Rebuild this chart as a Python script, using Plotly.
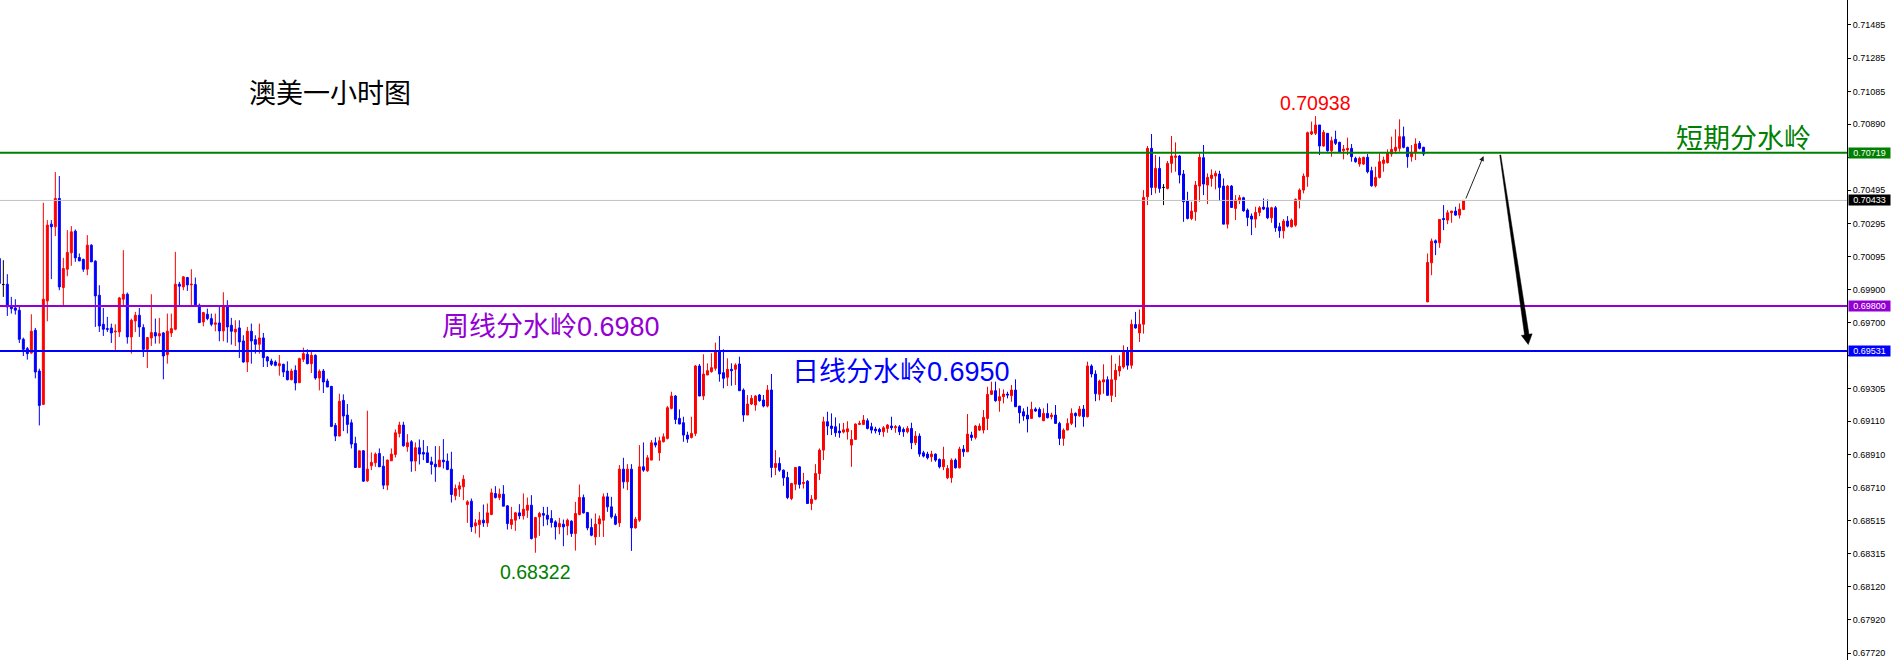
import plotly.graph_objects as go

# ---------------- data (AUDUSD 1H candles) ----------------
opens = [
0.70085,0.69929,0.69931,0.69795,0.69789,0.69775,0.69601,0.69545,0.69519,0.69655,
0.69411,0.69211,0.69831,0.70291,0.70275,0.70445,0.69911,0.70021,0.70119,0.70249,
0.70091,0.70079,0.70021,0.70165,0.70069,0.69865,0.69691,0.69665,0.69669,0.69645,
0.69645,0.69841,0.69871,0.69615,0.69711,0.69745,0.69671,0.69541,0.69609,0.69641,
0.69621,0.69639,0.69509,0.69639,0.69661,0.69931,0.69915,0.69971,0.69927,0.69929,
0.69805,0.69705,0.69751,0.69725,0.69691,0.69699,0.69651,0.69795,0.69685,0.69645,
0.69669,0.69591,0.69465,0.69649,0.69599,0.69571,0.69609,0.69495,0.69471,0.69465,
0.69443,0.69451,0.69411,0.69359,0.69415,0.69341,0.69481,0.69511,0.69455,0.69505,
0.69369,0.69411,0.69351,0.69319,0.69085,0.69021,0.69235,0.69147,0.69101,0.68977,
0.68833,0.68933,0.68753,0.68843,0.68861,0.68917,0.68841,0.68727,0.68873,0.68911,
0.69037,0.69087,0.68957,0.68987,0.68871,0.68951,0.68923,0.68921,0.68867,0.68853,
0.68837,0.68877,0.68871,0.68823,0.68663,0.68703,0.68717,0.68611,0.68631,0.68483,
0.68491,0.68517,0.68501,0.68551,0.68677,0.68653,0.68673,0.68603,0.68491,0.68517,
0.68561,0.68543,0.68577,0.68607,0.68413,0.68537,0.68557,0.68547,0.68527,0.68507,
0.68477,0.68493,0.68483,0.68511,0.68437,0.68551,0.68653,0.68563,0.68473,0.68417,
0.68495,0.68517,0.68657,0.68597,0.68541,0.68501,0.68823,0.68747,0.68823,0.68471,
0.68517,0.68837,0.68813,0.68877,0.68981,0.68921,0.68987,0.69007,0.69187,0.69261,
0.69127,0.69101,0.69027,0.69013,0.69037,0.69441,0.69261,0.69387,0.69407,0.69427,
0.69527,0.69401,0.69373,0.69421,0.69421,0.69453,0.69297,0.69147,0.69213,0.69207,
0.69267,0.69237,0.69201,0.69297,0.68833,0.68857,0.68817,0.68773,0.68647,0.68733,
0.68837,0.68737,0.68751,0.68617,0.68643,0.68797,0.68937,0.69107,0.69081,0.69077,
0.69051,0.69045,0.69047,0.68967,0.69001,0.69091,0.69091,0.69113,0.69077,0.69063,
0.69061,0.69047,0.69067,0.69081,0.69071,0.69077,0.69061,0.69047,0.69067,0.68981,
0.69021,0.68921,0.68913,0.68897,0.68913,0.68881,0.68837,0.68771,0.68771,0.68877,
0.68831,0.68943,0.68927,0.69027,0.69013,0.69057,0.69057,0.69127,0.69271,0.69293,
0.69233,0.69257,0.69273,0.69263,0.69297,0.69201,0.69167,0.69147,0.69127,0.69183,
0.69181,0.69113,0.69157,0.69137,0.69147,0.69097,0.69007,0.69057,0.69097,0.69157,
0.69143,0.69183,0.69137,0.69441,0.69393,0.69271,0.69345,0.69359,0.69265,0.69359,
0.69411,0.69435,0.69525,0.69445,0.69689,0.69639,0.69691,0.70455,0.70745,0.70511,
0.70625,0.70511,0.70505,0.70655,0.70691,0.70699,0.70591,0.70429,0.70325,0.70365,
0.70519,0.70689,0.70525,0.70565,0.70579,0.70591,0.70519,0.70291,0.70519,0.70385,
0.70431,0.70449,0.70375,0.70339,0.70321,0.70361,0.70393,0.70389,0.70329,0.70389,
0.70275,0.70251,0.70309,0.70275,0.70285,0.70439,0.70495,0.70575,0.70831,0.70835,
0.70885,0.70759,0.70835,0.70731,0.70799,0.70781,0.70731,0.70735,0.70745,0.70685,
0.70651,0.70651,0.70691,0.70611,0.70521,0.70571,0.70655,0.70659,0.70711,0.70731,
0.70745,0.70815,0.70751,0.70695,0.70721,0.70775,0.70751,0.69825,0.70059,0.70191,
0.70179,0.70325,0.70315,0.70359,0.70369,0.70345,0.70379]

highs = [
0.70091,0.70075,0.69991,0.69855,0.69841,0.69805,0.69611,0.69555,0.69751,0.69669,
0.69425,0.70419,0.70315,0.70315,0.70603,0.70579,0.70089,0.70255,0.70279,0.70259,
0.70115,0.70085,0.70225,0.70171,0.70075,0.69925,0.69789,0.69735,0.69695,0.69691,
0.69855,0.70135,0.69881,0.69725,0.69765,0.69789,0.69691,0.69615,0.69871,0.69725,
0.69729,0.69645,0.69755,0.69755,0.70125,0.69945,0.69979,0.69975,0.70021,0.69971,
0.69815,0.69765,0.69785,0.69755,0.69755,0.69795,0.69883,0.69835,0.69729,0.69715,
0.69715,0.69625,0.69675,0.69695,0.69625,0.69695,0.69639,0.69501,0.69485,0.69475,
0.69507,0.69455,0.69469,0.69425,0.69445,0.69491,0.69551,0.69541,0.69535,0.69511,
0.69421,0.69423,0.69365,0.69321,0.69099,0.69275,0.69271,0.69213,0.69121,0.69017,
0.68933,0.68937,0.69173,0.68923,0.68923,0.68947,0.68901,0.68881,0.68947,0.69061,
0.69107,0.69107,0.69033,0.68997,0.68983,0.69001,0.68997,0.68961,0.68897,0.68961,
0.68961,0.69003,0.68917,0.68927,0.68731,0.68747,0.68787,0.68637,0.68647,0.68523,
0.68567,0.68611,0.68617,0.68707,0.68721,0.68707,0.68727,0.68607,0.68597,0.68567,
0.68613,0.68677,0.68653,0.68667,0.68537,0.68567,0.68597,0.68597,0.68577,0.68517,
0.68531,0.68521,0.68527,0.68517,0.68627,0.68731,0.68671,0.68567,0.68527,0.68557,
0.68545,0.68677,0.68681,0.68657,0.68557,0.68847,0.68891,0.68853,0.68853,0.68537,
0.68967,0.68983,0.68907,0.68997,0.69013,0.69017,0.69037,0.69201,0.69287,0.69267,
0.69181,0.69137,0.69047,0.69137,0.69447,0.69453,0.69511,0.69457,0.69517,0.69581,
0.69621,0.69541,0.69487,0.69457,0.69457,0.69497,0.69307,0.69267,0.69267,0.69267,
0.69273,0.69267,0.69327,0.69393,0.68937,0.68893,0.68821,0.68807,0.68741,0.68833,
0.68841,0.68801,0.68757,0.68667,0.68853,0.68947,0.69137,0.69167,0.69157,0.69133,
0.69097,0.69100,0.69110,0.69057,0.69097,0.69113,0.69147,0.69127,0.69101,0.69077,
0.69071,0.69081,0.69093,0.69137,0.69087,0.69087,0.69073,0.69081,0.69101,0.69051,
0.69037,0.68933,0.68927,0.68933,0.68917,0.68887,0.68957,0.68847,0.68887,0.68887,
0.68957,0.68967,0.69153,0.69047,0.69087,0.69097,0.69177,0.69317,0.69347,0.69347,
0.69307,0.69301,0.69287,0.69327,0.69361,0.69201,0.69187,0.69197,0.69227,0.69193,
0.69193,0.69187,0.69217,0.69161,0.69207,0.69107,0.69067,0.69127,0.69187,0.69163,
0.69201,0.69207,0.69467,0.69451,0.69415,0.69359,0.69451,0.69379,0.69505,0.69455,
0.69505,0.69565,0.69555,0.69719,0.69765,0.69779,0.70495,0.70759,0.70831,0.70705,
0.70695,0.70531,0.70669,0.70819,0.70781,0.70705,0.70615,0.70485,0.70425,0.70549,
0.70715,0.70765,0.70595,0.70619,0.70611,0.70611,0.70565,0.70525,0.70525,0.70465,
0.70465,0.70455,0.70385,0.70355,0.70395,0.70399,0.70445,0.70439,0.70395,0.70399,
0.70299,0.70321,0.70339,0.70325,0.70445,0.70505,0.70595,0.70845,0.70905,0.70938,
0.70885,0.70855,0.70835,0.70815,0.70851,0.70785,0.70765,0.70809,0.70771,0.70695,
0.70695,0.70695,0.70711,0.70635,0.70635,0.70715,0.70695,0.70739,0.70815,0.70859,
0.70919,0.70875,0.70755,0.70765,0.70805,0.70789,0.70755,0.70115,0.70205,0.70199,
0.70321,0.70405,0.70375,0.70371,0.70395,0.70415,0.70433]

lows = [
0.69795,0.69855,0.69741,0.69755,0.69749,0.69579,0.69501,0.69479,0.69515,0.69367,
0.69085,0.69211,0.69709,0.69961,0.70219,0.69895,0.69805,0.69979,0.70041,0.70065,
0.70069,0.70005,0.69985,0.70065,0.69675,0.69645,0.69621,0.69645,0.69579,0.69525,
0.69615,0.69795,0.69575,0.69515,0.69645,0.69615,0.69495,0.69429,0.69561,0.69575,
0.69575,0.69361,0.69455,0.69615,0.69655,0.69805,0.69895,0.69891,0.69795,0.69795,
0.69699,0.69679,0.69715,0.69679,0.69649,0.69589,0.69589,0.69581,0.69569,0.69561,
0.69489,0.69461,0.69405,0.69455,0.69515,0.69515,0.69435,0.69435,0.69441,0.69439,
0.69383,0.69375,0.69355,0.69355,0.69295,0.69339,0.69465,0.69451,0.69399,0.69359,
0.69295,0.69279,0.69315,0.69075,0.68991,0.69021,0.69051,0.69037,0.68947,0.68833,
0.68833,0.68747,0.68747,0.68817,0.68837,0.68837,0.68703,0.68697,0.68873,0.68893,
0.69013,0.68957,0.68927,0.68807,0.68811,0.68851,0.68877,0.68861,0.68791,0.68747,
0.68837,0.68827,0.68817,0.68623,0.68637,0.68657,0.68637,0.68501,0.68447,0.68437,
0.68413,0.68477,0.68477,0.68547,0.68647,0.68637,0.68601,0.68461,0.68463,0.68453,
0.68523,0.68521,0.68531,0.68401,0.68322,0.68423,0.68481,0.68487,0.68473,0.68401,
0.68433,0.68361,0.68427,0.68417,0.68335,0.68547,0.68557,0.68457,0.68421,0.68367,
0.68417,0.68417,0.68567,0.68527,0.68487,0.68477,0.68707,0.68697,0.68333,0.68467,
0.68507,0.68807,0.68807,0.68877,0.68953,0.68873,0.68983,0.69001,0.69181,0.69093,
0.69093,0.68987,0.68981,0.69007,0.69021,0.69261,0.69237,0.69387,0.69401,0.69413,
0.69347,0.69307,0.69321,0.69323,0.69327,0.69293,0.69107,0.69147,0.69207,0.69173,
0.69227,0.69193,0.69193,0.68773,0.68787,0.68807,0.68723,0.68643,0.68637,0.68697,
0.68707,0.68707,0.68617,0.68577,0.68637,0.68757,0.68877,0.69027,0.69027,0.69017,
0.69011,0.69037,0.69000,0.68837,0.69001,0.69087,0.69087,0.69061,0.69037,0.69037,
0.69027,0.69017,0.69041,0.69057,0.69041,0.69027,0.69017,0.69037,0.68943,0.68967,
0.68897,0.68893,0.68881,0.68867,0.68867,0.68827,0.68817,0.68763,0.68741,0.68827,
0.68827,0.68897,0.68927,0.68993,0.69001,0.69051,0.69037,0.69057,0.69267,0.69227,
0.69167,0.69217,0.69247,0.69227,0.69197,0.69097,0.69113,0.69043,0.69127,0.69167,
0.69133,0.69111,0.69127,0.69121,0.69097,0.68967,0.68963,0.69057,0.69087,0.69073,
0.69137,0.69077,0.69133,0.69373,0.69230,0.69235,0.69275,0.69265,0.69225,0.69255,
0.69379,0.69425,0.69419,0.69425,0.69665,0.69585,0.69635,0.70405,0.70465,0.70475,
0.70479,0.70405,0.70499,0.70599,0.70605,0.70535,0.70305,0.70319,0.70315,0.70311,
0.70425,0.70465,0.70411,0.70515,0.70499,0.70429,0.70291,0.70265,0.70391,0.70315,
0.70411,0.70365,0.70279,0.70225,0.70269,0.70339,0.70375,0.70321,0.70299,0.70245,
0.70209,0.70205,0.70271,0.70271,0.70275,0.70385,0.70475,0.70515,0.70825,0.70825,
0.70705,0.70755,0.70725,0.70695,0.70765,0.70719,0.70679,0.70705,0.70665,0.70659,
0.70635,0.70645,0.70595,0.70515,0.70511,0.70565,0.70605,0.70655,0.70695,0.70711,
0.70725,0.70745,0.70629,0.70665,0.70675,0.70739,0.70699,0.69825,0.69985,0.70105,
0.70149,0.70255,0.70291,0.70299,0.70341,0.70325,0.70375]

closes = [
0.69935,0.69929,0.69795,0.69785,0.69775,0.69601,0.69541,0.69515,0.69649,0.69405,
0.69205,0.69841,0.70285,0.70275,0.70445,0.69915,0.70025,0.70121,0.70245,0.70089,
0.70071,0.70021,0.70165,0.70065,0.69861,0.69681,0.69661,0.69661,0.69639,0.69649,
0.69849,0.69871,0.69615,0.69715,0.69745,0.69675,0.69541,0.69611,0.69641,0.69621,
0.69635,0.69501,0.69649,0.69665,0.69931,0.69919,0.69975,0.69927,0.69931,0.69799,
0.69701,0.69761,0.69725,0.69691,0.69699,0.69651,0.69795,0.69675,0.69649,0.69661,
0.69585,0.69465,0.69649,0.69591,0.69571,0.69609,0.69491,0.69471,0.69451,0.69445,
0.69455,0.69405,0.69359,0.69411,0.69339,0.69485,0.69515,0.69455,0.69505,0.69369,
0.69409,0.69345,0.69315,0.69079,0.69021,0.69229,0.69141,0.69091,0.68973,0.68833,
0.68933,0.68751,0.68823,0.68863,0.68913,0.68837,0.68727,0.68877,0.68913,0.69041,
0.69087,0.68963,0.68981,0.68871,0.68951,0.68913,0.68913,0.68863,0.68851,0.68837,
0.68877,0.68867,0.68821,0.68671,0.68707,0.68723,0.68763,0.68627,0.68477,0.68501,
0.68517,0.68501,0.68561,0.68681,0.68653,0.68673,0.68601,0.68497,0.68521,0.68561,
0.68543,0.68583,0.68607,0.68407,0.68533,0.68557,0.68547,0.68523,0.68503,0.68477,
0.68497,0.68477,0.68517,0.68437,0.68557,0.68653,0.68561,0.68471,0.68427,0.68493,
0.68525,0.68657,0.68597,0.68537,0.68493,0.68823,0.68747,0.68823,0.68471,0.68523,
0.68837,0.68817,0.68891,0.68981,0.68967,0.68993,0.69017,0.69191,0.69261,0.69121,
0.69093,0.69027,0.69003,0.69037,0.69441,0.69261,0.69393,0.69413,0.69431,0.69527,
0.69393,0.69367,0.69421,0.69413,0.69447,0.69293,0.69147,0.69213,0.69247,0.69261,
0.69233,0.69201,0.69297,0.68833,0.68857,0.68817,0.68771,0.68653,0.68737,0.68833,
0.68731,0.68743,0.68617,0.68643,0.68797,0.68937,0.69107,0.69081,0.69067,0.69041,
0.69041,0.69059,0.69065,0.69001,0.69093,0.69097,0.69117,0.69067,0.69057,0.69053,
0.69047,0.69071,0.69087,0.69071,0.69077,0.69047,0.69047,0.69067,0.68981,0.69021,
0.68913,0.68901,0.68891,0.68913,0.68877,0.68837,0.68881,0.68827,0.68877,0.68831,
0.68943,0.68927,0.69033,0.69013,0.69081,0.69081,0.69133,0.69271,0.69293,0.69233,
0.69257,0.69273,0.69267,0.69297,0.69197,0.69161,0.69141,0.69123,0.69181,0.69171,
0.69137,0.69157,0.69131,0.69147,0.69097,0.69007,0.69057,0.69097,0.69157,0.69143,
0.69183,0.69137,0.69441,0.69393,0.69275,0.69351,0.69359,0.69265,0.69359,0.69415,
0.69439,0.69525,0.69445,0.69691,0.69669,0.69691,0.70451,0.70745,0.70511,0.70625,
0.70505,0.70511,0.70655,0.70699,0.70699,0.70585,0.70425,0.70325,0.70369,0.70525,
0.70691,0.70531,0.70571,0.70585,0.70595,0.70511,0.70291,0.70519,0.70391,0.70435,
0.70449,0.70371,0.70331,0.70321,0.70361,0.70389,0.70381,0.70329,0.70389,0.70269,
0.70251,0.70309,0.70279,0.70315,0.70439,0.70495,0.70579,0.70839,0.70845,0.70885,
0.70759,0.70841,0.70731,0.70791,0.70775,0.70725,0.70741,0.70745,0.70695,0.70665,
0.70685,0.70691,0.70605,0.70521,0.70571,0.70665,0.70675,0.70715,0.70739,0.70751,
0.70815,0.70751,0.70695,0.70721,0.70771,0.70745,0.70711,0.70061,0.70189,0.70179,
0.70319,0.70319,0.70359,0.70369,0.70345,0.70381,0.70433]

candle_index = list(range(1, len(opens) + 1))

# horizontal levels
short_level = 0.70719    # 短期分水岭
bid_level = 0.70433      # current price
weekly_level = 0.69800   # 周线分水岭
daily_level = 0.69531    # 日线分水岭

# axis ticks (MT4 price scale); the two hidden under price tags carry no label
tick_values = [0.71485, 0.71285, 0.71085, 0.70890, 0.70690, 0.70495, 0.70295,
               0.70095, 0.69900, 0.69700, 0.69505, 0.69305, 0.69110, 0.68910,
               0.68710, 0.68515, 0.68315, 0.68120, 0.67920, 0.67720]
hidden_ticks = [0.70690, 0.69505]
tick_labels = ["" if v in hidden_ticks else "%.5f" % v for v in tick_values]

high_label = "0.70938"
low_label = "0.68322"

# ---------------- figure ----------------
RED = "#FF0000"
BLUE = "#0000FF"
GREEN = "#008000"
PURPLE = "#9400D3"

normal = [i for i in range(len(opens)) if opens[i] != closes[i]]
doji = [i for i in range(len(opens)) if opens[i] == closes[i]]

def pick(arr, idx):
    return [arr[i] for i in idx]

fig = go.Figure()
fig.add_trace(go.Candlestick(
    x=pick(candle_index, normal), open=pick(opens, normal), high=pick(highs, normal),
    low=pick(lows, normal), close=pick(closes, normal),
    increasing=dict(line=dict(color=RED, width=1), fillcolor=RED),
    decreasing=dict(line=dict(color=BLUE, width=1), fillcolor=BLUE),
    whiskerwidth=0, hoverinfo="skip", showlegend=False))
fig.add_trace(go.Candlestick(
    x=pick(candle_index, doji), open=pick(opens, doji), high=pick(highs, doji),
    low=pick(lows, doji), close=pick(closes, doji),
    increasing=dict(line=dict(color="black", width=1), fillcolor="black"),
    decreasing=dict(line=dict(color="black", width=1), fillcolor="black"),
    whiskerwidth=0, hoverinfo="skip", showlegend=False))

# level lines
for lvl, col, w in [(bid_level, "#C0C0C0", 1), (short_level, GREEN, 2),
                    (weekly_level, PURPLE, 2), (daily_level, BLUE, 2)]:
    fig.add_shape(type="line", xref="paper", x0=0, x1=1, yref="y", y0=lvl, y1=lvl,
                  line=dict(color=col, width=w), layer="above")

# thick projected down arrow (tapered)
fig.add_shape(type="path", xref="x", yref="y", layer="above",
              path="M 376.29 0.707058 L 383.34 0.696309 L 384.14 0.696339 L 383.17 0.695698 "
                   "L 381.44 0.696243 L 382.24 0.696273 L 376.04 0.707046 Z",
              fillcolor="black", line=dict(color="black", width=0.5))

CJK = "Liberation Sans, Arial, Noto Sans CJK SC, sans-serif"
ann = []
# thin up arrow
ann.append(dict(x=371.99, y=0.706992, ax=367.42, ay=0.704356, xref="x", yref="y",
                axref="x", ayref="y", showarrow=True, arrowhead=2, arrowsize=1,
                arrowwidth=1, arrowcolor="#222222", text=""))
# texts
ann.append(dict(x=83.7, y=0.71084, xref="x", yref="y", text="澳美一小时图", showarrow=False,
                font=dict(family="Noto Sans CJK SC", size=27, color="black")))
ann.append(dict(x=329.9, y=0.71015, xref="x", yref="y", text=high_label, showarrow=False,
                font=dict(family="Liberation Sans, Arial", size=19.5, color=RED)))
ann.append(dict(x=134.9, y=0.68209, xref="x", yref="y", text=low_label, showarrow=False,
                font=dict(family="Liberation Sans, Arial", size=19.5, color=GREEN)))
ann.append(dict(x=139.0, y=0.69675, xref="x", yref="y", text="周线分水岭0.6980", showarrow=False,
                font=dict(family=CJK, size=27, color=PURPLE)))
ann.append(dict(x=226.5, y=0.69405, xref="x", yref="y", text="日线分水岭0.6950", showarrow=False,
                font=dict(family=CJK, size=27, color=BLUE)))
ann.append(dict(x=437.0, y=0.70815, xref="x", yref="y", text="短期分水岭", showarrow=False,
                font=dict(family="Noto Sans CJK SC", size=27, color=GREEN)))
# price tags on the axis
for lvl, bg in [(short_level, GREEN), (bid_level, "black"), (weekly_level, PURPLE), (daily_level, BLUE)]:
    ann.append(dict(xref="paper", x=1, xanchor="left", xshift=1, yref="y", y=lvl,
                    yanchor="middle", text="%.5f" % lvl, showarrow=False, bgcolor=bg,
                    width=41, height=10, borderpad=0, align="center",
                    font=dict(family="Liberation Sans, Arial", size=9, color="white")))

fig.update_layout(
    width=1893, height=660,
    margin=dict(l=0, r=46, t=0, b=0, pad=0),
    paper_bgcolor="white", plot_bgcolor="white",
    showlegend=False, boxgap=0.3, boxgroupgap=0.3,
    annotations=ann,
    xaxis=dict(range=[1.1675, 462.84], visible=False, rangeslider=dict(visible=False),
               showgrid=False, zeroline=False),
    yaxis=dict(side="right", range=[0.676794, 0.716339], showgrid=False, zeroline=False,
               showline=True, linecolor="black", linewidth=1, ticks="outside", ticklen=3,
               tickcolor="black", tickvals=tick_values, ticktext=tick_labels,
               tickfont=dict(family="Liberation Sans, Arial", size=9, color="black")),
)

fig.write_html("out.html", include_plotlyjs=True, config={"displayModeBar": False},
               post_script="document.body.style.margin='0';document.body.style.overflow='hidden';")
